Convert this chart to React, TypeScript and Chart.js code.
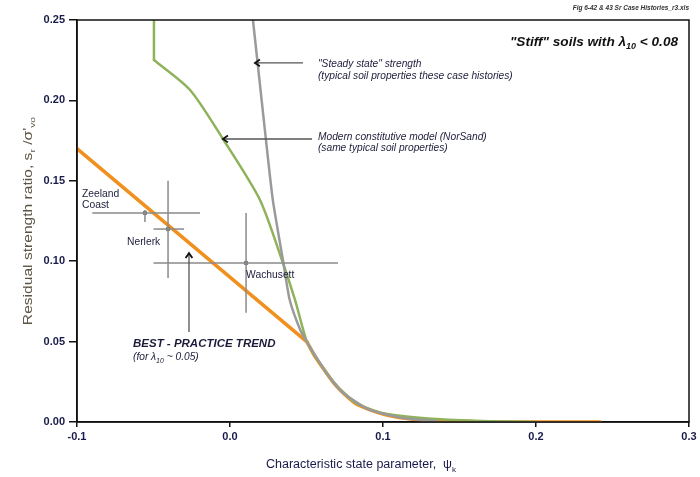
import React, { useEffect, useRef } from "react";
import { Chart, registerables } from "chart.js";

Chart.register(...registerables);

// ---------------- DATA ----------------
const xTicks = [-0.1, 0.0, 0.1, 0.2, 0.3];
const yTicks = [0.0, 0.05, 0.1, 0.15, 0.2, 0.25];

// Best-practice trend (orange): straight part up to the kink, then the tail
const trendX = [-0.1, 0.0503, 0.056, 0.063, 0.068, 0.074, 0.082, 0.0915, 0.1, 0.113, 0.135, 0.16, 0.242];
const trendY = [0.17, 0.0498, 0.04, 0.0305, 0.024, 0.018, 0.0115, 0.0075, 0.005, 0.0025, 0.0005, 0.0, 0.0];
const trendKink = 1; // index of the kink point

// NorSand model (green): vertical part up to the kink, then the curve
const norsandX = [-0.0497, -0.0497, -0.0261, -0.0046, 0.0196, 0.0346, 0.0425, 0.0503, 0.056, 0.063, 0.068, 0.074, 0.082, 0.0915, 0.1, 0.12, 0.14, 0.16, 0.18, 0.2];
const norsandY = [0.25, 0.2251, 0.2065, 0.176, 0.1381, 0.0989, 0.0759, 0.0498, 0.0405, 0.031, 0.0245, 0.0185, 0.012, 0.008, 0.0055, 0.003, 0.0015, 0.0008, 0.0003, 0.0];
const norsandKink = 1;

// Steady state strength (gray)
const steadyX = [0.015, 0.0235, 0.028, 0.0346, 0.039, 0.046, 0.0503, 0.063, 0.074, 0.0915, 0.113, 0.135];
const steadyY = [0.25, 0.1754, 0.138, 0.1007, 0.076, 0.057, 0.0498, 0.0305, 0.018, 0.0075, 0.0025, 0.0005];

// Case histories
const siteNames = ["Zeeland Coast", "Nerlerk", "Wachusett"];
const siteX = [-0.0556, -0.0405, 0.0105];
const siteY = [0.13, 0.12, 0.0989];
const siteXLow = [-0.09, -0.05, -0.05];
const siteXHigh = [-0.0196, -0.03, 0.0706];
const siteYLow = [0.1244, 0.0896, 0.068];
const siteYHigh = [0.1318, 0.15, 0.13];

// Annotation texts (data coordinates)
const noteLabels = [
  "\"Steady state\" strength",
  "(typical soil properties these case histories)",
  "Modern constitutive model (NorSand)",
  "(same typical soil properties)",
  "Zeeland",
  "Coast",
  "Nerlerk",
  "Wachusett",
];
const noteX = [0.0575, 0.0575, 0.0575, 0.0575, -0.0967, -0.0967, -0.0673, 0.0105];
const noteY = [0.2226, 0.2152, 0.1772, 0.1704, 0.1418, 0.135, 0.1119, 0.0914];

// Arrows: tail -> tip (data coordinates)
const arrowTailX = [0.0477, 0.0536, -0.0268];
const arrowTailY = [0.2233, 0.176, 0.056];
const arrowTipX = [0.0163, -0.0046, -0.0268];
const arrowTipY = [0.2233, 0.176, 0.105];

const FONT = "'Liberation Sans', Arial, sans-serif";

type Part = { t: string; sub?: boolean };

function measureRich(ctx: CanvasRenderingContext2D, parts: Part[], size: number, style: string) {
  const subSize = Math.round(size * 0.65);
  return parts.map((p) => {
    ctx.font = `${style} ${p.sub ? subSize : size}px ${FONT}`;
    return ctx.measureText(p.t).width;
  });
}

function drawRich(
  ctx: CanvasRenderingContext2D,
  parts: Part[],
  x: number,
  y: number,
  size: number,
  style: string,
  align: "left" | "center" | "right"
) {
  const subSize = Math.round(size * 0.65);
  const widths = measureRich(ctx, parts, size, style);
  const total = widths.reduce((a, b) => a + b, 0);
  let cx = align === "left" ? x : align === "center" ? x - total / 2 : x - total;
  ctx.textAlign = "left";
  ctx.textBaseline = "middle";
  parts.forEach((p, i) => {
    ctx.font = `${style} ${p.sub ? subSize : size}px ${FONT}`;
    ctx.fillText(p.t, cx, p.sub ? y + size * 0.35 : y);
    cx += widths[i];
  });
}

function drawArrow(ctx: CanvasRenderingContext2D, x1: number, y1: number, x2: number, y2: number) {
  const ang = Math.atan2(y2 - y1, x2 - x1);
  ctx.save();
  ctx.strokeStyle = "#555555";
  ctx.lineWidth = 1.3;
  ctx.beginPath();
  ctx.moveTo(x1, y1);
  ctx.lineTo(x2, y2);
  ctx.stroke();
  ctx.strokeStyle = "#111111";
  ctx.lineWidth = 1.8;
  const h = 6;
  ctx.beginPath();
  ctx.moveTo(x2 - h * Math.cos(ang - 0.6), y2 - h * Math.sin(ang - 0.6));
  ctx.lineTo(x2, y2);
  ctx.lineTo(x2 - h * Math.cos(ang + 0.6), y2 - h * Math.sin(ang + 0.6));
  ctx.stroke();
  ctx.restore();
}

const annotationPlugin = {
  id: "annotations",
  afterDatasetsDraw(chart: any) {
    const ctx: CanvasRenderingContext2D = chart.ctx;
    const xs = chart.scales.x;
    const ys = chart.scales.y;
    const ca = chart.chartArea;
    ctx.save();

    // frame box
    ctx.strokeStyle = "#111111";
    ctx.lineWidth = 1.5;
    ctx.strokeRect(ca.left, ca.top, ca.right - ca.left, ca.bottom - ca.top);

    // arrows
    for (let i = 0; i < arrowTailX.length; i++) {
      drawArrow(
        ctx,
        xs.getPixelForValue(arrowTailX[i]),
        ys.getPixelForValue(arrowTailY[i]),
        xs.getPixelForValue(arrowTipX[i]),
        ys.getPixelForValue(arrowTipY[i])
      );
    }

    // notes
    ctx.fillStyle = "#1c1c3a";
    for (let i = 0; i < noteLabels.length; i++) {
      const size = i < 4 ? 10.2 : 10.3;
      const style = i < 4 ? "italic" : "normal";
      drawRich(ctx, [{ t: noteLabels[i] }], xs.getPixelForValue(noteX[i]), ys.getPixelForValue(noteY[i]), size, style, "left");
    }

    // best practice
    const bx = xs.getPixelForValue(-0.0634);
    drawRich(ctx, [{ t: "BEST - PRACTICE TREND" }], bx, ys.getPixelForValue(0.0485), 11.5, "italic bold", "left");
    drawRich(ctx, [{ t: "(for λ" }, { t: "10", sub: true }, { t: " ~ 0.05)" }], bx, ys.getPixelForValue(0.0404), 10.2, "italic", "left");

    // stiff soils title
    ctx.fillStyle = "#111111";
    drawRich(ctx, [{ t: "\"Stiff\" soils with λ" }, { t: "10", sub: true }, { t: " < 0.08" }], ca.right - 11, ca.top + 22, 13.6, "italic bold", "right");

    // file name
    ctx.fillStyle = "#333333";
    drawRich(ctx, [{ t: "Fig 6-42 & 43 Sr Case Histories_r3.xls" }], ca.right, 8, 6.5, "italic bold", "right");

    // axis titles
    ctx.fillStyle = "#1a1a4a";
    drawRich(ctx, [{ t: "Characteristic state parameter,  ψ" }, { t: "k", sub: true }], (ca.left + ca.right) / 2 - 22, chart.height - 12, 12.5, "normal", "center");

    ctx.save();
    ctx.translate(29, (ca.top + ca.bottom) / 2);
    ctx.rotate(-Math.PI / 2);
    ctx.scale(1.3, 1);
    ctx.fillStyle = "#5c5444";
    drawRich(ctx, [{ t: "Residual strength ratio, s" }, { t: "r", sub: true }, { t: " /σ'" }, { t: "vo", sub: true }], 0, 0, 12, "normal", "center");
    ctx.restore();

    ctx.restore();
  },
};

function pts(xa: number[], ya: number[], from = 0, to = xa.length) {
  const out: { x: number; y: number }[] = [];
  for (let i = from; i < to; i++) out.push({ x: xa[i], y: ya[i] });
  return out;
}

export default function App() {
  const ref = useRef<HTMLCanvasElement | null>(null);

  useEffect(() => {
    if (!ref.current) return;
    const crossColor = "#8a8a8a";
    const barSets: any[] = [];
    siteNames.forEach((name, i) => {
      barSets.push({
        label: name + " x-range",
        data: [
          { x: siteXLow[i], y: siteY[i] },
          { x: siteXHigh[i], y: siteY[i] },
        ],
        showLine: true,
        borderColor: crossColor,
        borderWidth: 1.5,
        pointRadius: 0,
        tension: 0,
      });
      barSets.push({
        label: name + " y-range",
        data: [
          { x: siteX[i], y: siteYLow[i] },
          { x: siteX[i], y: siteYHigh[i] },
        ],
        showLine: true,
        borderColor: crossColor,
        borderWidth: 1.5,
        pointRadius: 0,
        tension: 0,
      });
    });

    const line = (label: string, data: any[], color: string, width: number, tension: number) => ({
      label,
      data,
      showLine: true,
      borderColor: color,
      borderWidth: width,
      pointRadius: 0,
      tension,
      borderCapStyle: "round",
      borderJoinStyle: "round",
    });

    const chart = new Chart(ref.current, {
      type: "scatter",
      data: {
        datasets: [
          ...barSets,
          {
            label: "Case histories",
            data: pts(siteX, siteY),
            showLine: false,
            pointStyle: "rect",
            pointRadius: 2.2,
            backgroundColor: "#9a9a9a",
            borderColor: "#6a6a7a",
            borderWidth: 1,
          },
          line("Steady state", pts(steadyX, steadyY), "#9a9a9a", 2.5, 0.2),
          line("NorSand (upper)", pts(norsandX, norsandY, 0, norsandKink + 1), "#8fb25a", 2.5, 0),
          line("NorSand", pts(norsandX, norsandY, norsandKink), "#8fb25a", 2.5, 0.25),
          line("Best practice (linear)", pts(trendX, trendY, 0, trendKink + 1), "#f0901e", 3.5, 0),
          line("Best practice", pts(trendX, trendY, trendKink), "#f0901e", 3.5, 0.2),
        ],
      },
      options: {
        animation: false,
        responsive: false,
        events: [],
        layout: { padding: { top: 20, right: 11, left: 0, bottom: 0 } },
        plugins: { legend: { display: false }, tooltip: { enabled: false } },
        scales: {
          x: {
            type: "linear",
            min: -0.1,
            max: 0.3,
            afterFit: (s: any) => {
              s.height = 55;
            },
            afterBuildTicks: (s: any) => {
              s.ticks = xTicks.map((v) => ({ value: v }));
            },
            grid: { drawOnChartArea: false, drawTicks: true, tickLength: 5, color: "#111111", lineWidth: 1.5 },
            border: { display: true, color: "#111111", width: 1.5 },
            ticks: {
              color: "#1a1a4a",
              padding: 3,
              font: { family: FONT, size: 11, weight: "bold" },
              callback: (v: any) => Number(v).toFixed(1),
              maxRotation: 0,
            },
          },
          y: {
            type: "linear",
            min: 0,
            max: 0.25,
            afterFit: (s: any) => {
              s.width = 77;
            },
            afterBuildTicks: (s: any) => {
              s.ticks = yTicks.map((v) => ({ value: v }));
            },
            grid: { drawOnChartArea: false, drawTicks: true, tickLength: 8, color: "#111111", lineWidth: 1.5 },
            border: { display: true, color: "#111111", width: 1.5 },
            ticks: {
              color: "#1a1a4a",
              padding: 4,
              font: { family: FONT, size: 11, weight: "bold" },
              callback: (v: any) => Number(v).toFixed(2),
            },
          },
        },
      },
      plugins: [annotationPlugin],
    } as any);

    return () => chart.destroy();
  }, []);

  return (
    <div style={{ position: "absolute", left: 0, top: 0, width: 700, height: 477, background: "#ffffff" }}>
      <canvas ref={ref} width={700} height={477} style={{ display: "block", width: 700, height: 477 }} />
    </div>
  );
}
